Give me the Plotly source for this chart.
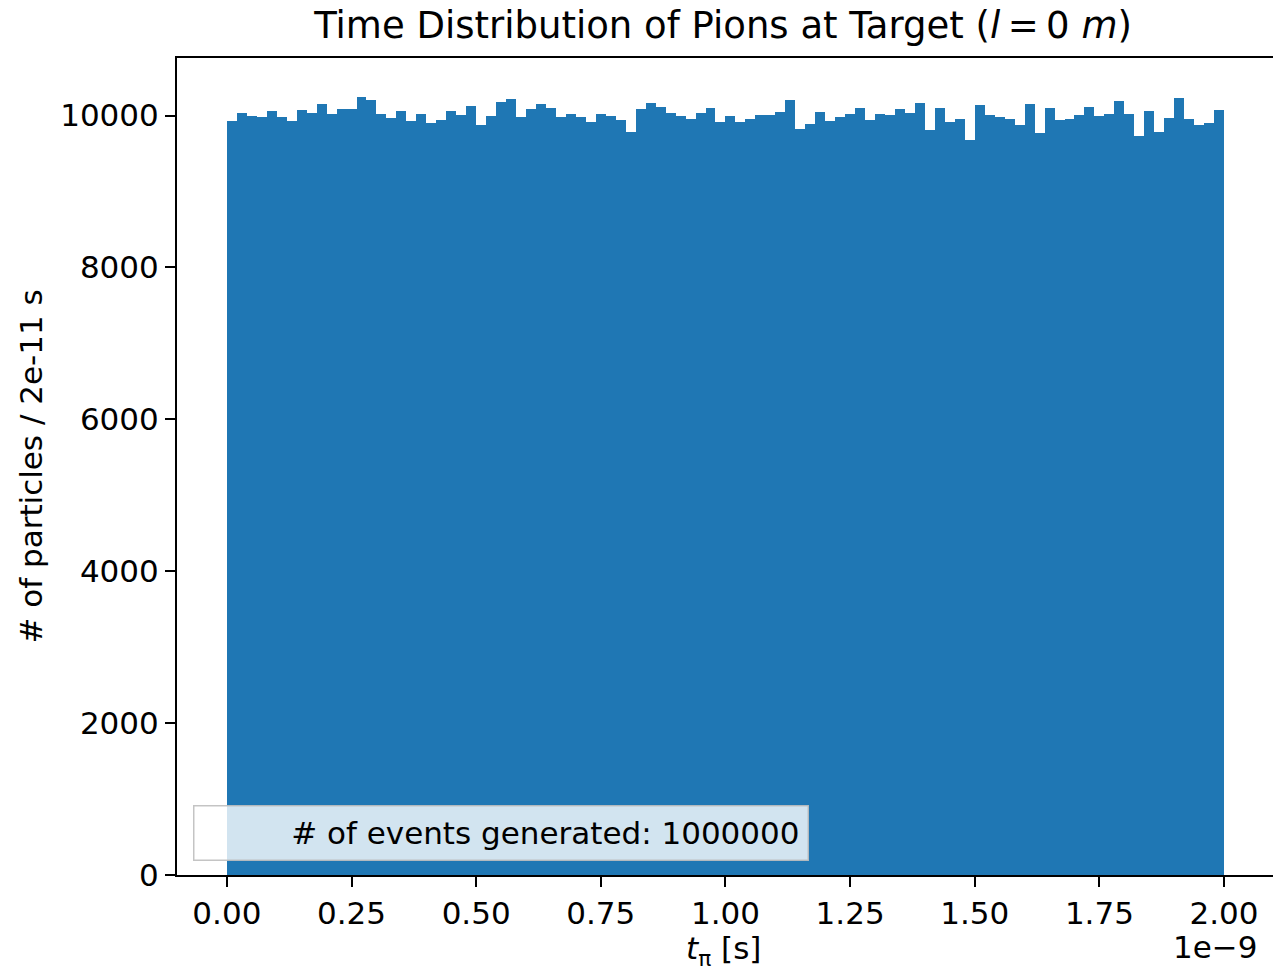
import numpy as np
import plotly.graph_objects as go

# ---- data ----
bin_start_s = 0.0
bin_width_s = 2e-11
counts = [
    9925, 10035, 9996, 9982, 10061, 9982, 9930, 10070, 10035, 10158,
    10026, 10092, 10083, 10246, 10202, 10026, 9969, 10061, 9930, 10026,
    9903, 9939, 10061, 10013, 10123, 9873, 10000, 10180, 10224, 9982,
    10088, 10158, 10101, 9982, 10018, 9987, 9917, 10018, 9996, 9947,
    9785, 10092, 10167, 10114, 10040, 9991, 9960, 10035, 10105, 9917,
    9991, 9917, 9960, 10013, 10004, 10048, 10202, 9829, 9895, 10048,
    9925, 9982, 10026, 10101, 9947, 10026, 10004, 10083, 10035, 10167,
    9807, 10105, 9917, 9960, 9684, 10136, 10013, 9982, 9960, 9873,
    10158, 9772, 10101, 9939, 9960, 10004, 10114, 9991, 10018, 10189,
    10026, 9728, 10061, 9785, 9969, 10233, 9952, 9881, 9903, 10079,
]
x_ticks = [0.0, 0.25, 0.5, 0.75, 1.0, 1.25, 1.5, 1.75, 2.0]
x_tick_labels = ["0.00", "0.25", "0.50", "0.75", "1.00", "1.25", "1.50", "1.75", "2.00"]
y_ticks = [0, 2000, 4000, 6000, 8000, 10000]
y_tick_labels = ["0", "2000", "4000", "6000", "8000", "10000"]
n_events = 1000000
scale = 1e-9  # axis offset

# bin centres in axis units (1e-9 s)
n = len(counts)
edges = (bin_start_s + bin_width_s * np.arange(n + 1)) / scale
centers = (edges[:-1] + edges[1:]) / 2
width = bin_width_s / scale

FONT = "DejaVu Sans"
FS = 31
W, H = 1273, 970
L, R, T, B = 177, 0, 58, 95
plot_w = W - L - R
plot_h = H - T - B
px_per_unit = 498.6
x_min = -0.1
x_max = x_min + plot_w / px_per_unit

fig = go.Figure(go.Bar(
    x=centers, y=counts, width=width,
    marker=dict(color="#1f77b4", line=dict(width=0)),
    showlegend=False,
))

fig.update_layout(
    width=W, height=H,
    margin=dict(l=L, r=R, t=T, b=B, autoexpand=False),
    plot_bgcolor="white", paper_bgcolor="white",
    font=dict(family=FONT, size=FS, color="black"),
    bargap=0,
    title=dict(
        text="Time Distribution of Pions at Target (<i>l</i>\u2009=\u20090 <i>m</i>)",
        x=(723 - L) / plot_w, xref="paper", xanchor="center",
        y=1, yref="paper", yanchor="bottom",
        pad=dict(b=20),
        font=dict(family=FONT, size=37, color="black"),
    ),
    xaxis=dict(
        range=[x_min, x_max], automargin=False,
        tickvals=x_ticks, ticktext=x_tick_labels,
        ticks="outside", ticklen=10, tickwidth=2, tickcolor="black",
        showline=True, linecolor="black", linewidth=2, mirror=True,
        showgrid=False, zeroline=False,
    ),
    yaxis=dict(
        range=[0, 1.05 * max(counts)], automargin=False,
        tickvals=y_ticks, ticktext=y_tick_labels,
        ticks="outside", ticklen=10, tickwidth=2, tickcolor="black",
        showline=True, linecolor="black", linewidth=2, mirror=True,
        showgrid=False, zeroline=False,
        title=dict(text="# of particles / 2e-11 s", standoff=8,
                   font=dict(family=FONT, size=FS)),
    ),
)

# x-axis title
fig.add_annotation(
    text="<i>t</i><sub>π</sub> [s]", xref="paper", yref="paper",
    x=(723 - L) / plot_w, y=0, xanchor="center", yanchor="middle",
    yshift=-75, showarrow=False,
    font=dict(family=FONT, size=FS, color="black"),
)

# offset text
fig.add_annotation(
    text="1e\u22129", xref="paper", yref="paper",
    x=1.0, y=0, xanchor="right", yanchor="top",
    yshift=-52, xshift=-13, showarrow=False,
    font=dict(family=FONT, size=FS, color="black"),
)

# legend-like text box
box_left_px, box_right_px = 193, 808
box_top_px, box_bottom_px = 805, 860
fig.add_annotation(
    text=f"# of events generated: {n_events}",
    xref="paper", yref="paper",
    x=((box_left_px + box_right_px) / 2 - L) / plot_w,
    y=(H - B - (box_top_px + box_bottom_px) / 2) / plot_h,
    xanchor="center", yanchor="middle",
    width=597, height=37, align="right", valign="middle",
    borderpad=8, borderwidth=1.5, bordercolor="rgba(190,190,190,0.9)",
    bgcolor="rgba(255,255,255,0.8)", showarrow=False,
    font=dict(family=FONT, size=FS, color="black"),
)

fig.write_html(
    "out.html",
    config={"displayModeBar": False},
    post_script="document.body.style.margin='0';document.body.style.overflow='hidden';",
)
